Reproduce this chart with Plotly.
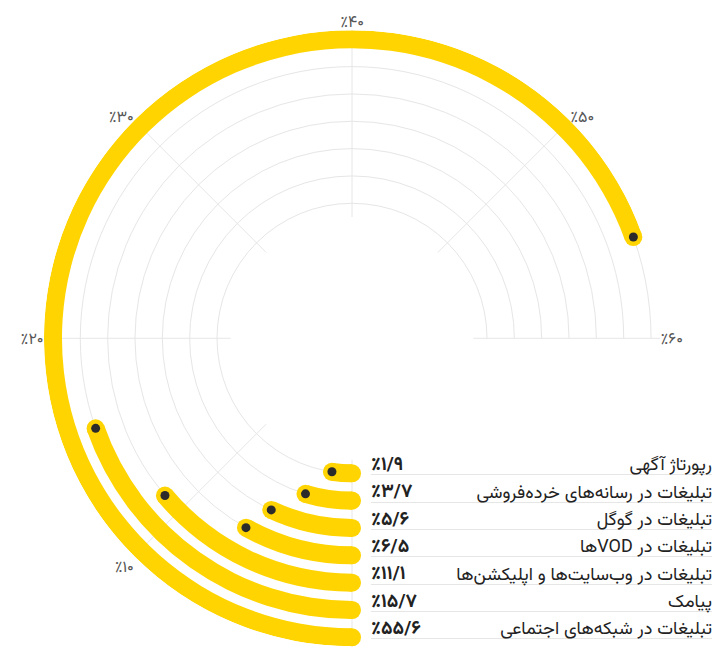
import re
import plotly.graph_objects as go

# ---------------- data ----------------
categories = [
    "رپورتاژ آگهی",
    "تبلیغات در رسانه\u200cهای خرده\u200cفروشی",
    "تبلیغات در گوگل",
    "تبلیغات در VODها",
    "تبلیغات در وب\u200cسایت\u200cها و اپلیکشن\u200cها",
    "پیامک",
    "تبلیغات در شبکه\u200cهای اجتماعی",
]
values = [1.9, 3.7, 5.6, 6.5, 11.1, 15.7, 55.6]
tick_values = [0, 10, 20, 30, 40, 50, 60]
tick_labels = ["", "٪۱۰", "٪۲۰", "٪۳۰", "٪۴۰", "٪۵۰", "٪۶۰"]

# ---------------- helpers ----------------
PERSIAN = str.maketrans("0123456789.", "۰۱۲۳۴۵۶۷۸۹/")


def fa_pct(v):
    return "٪" + f"{v}".translate(PERSIAN)


def rtl(s):
    # only mixed-direction strings need an explicit RTL embedding
    if re.search(r"[A-Za-z]", s):
        return "\u202b" + s + "\u202c"
    return s


MAX_PCT = 60
SPAN_DEG = 270.0
DEG = SPAN_DEG / MAX_PCT          # degrees per percent


def to_theta(p):
    # 0% sits at the bottom, values run clockwise up to 60% at the right
    return (MAX_PCT - p) * DEG


YELLOW = "#FFD400"
DOT = "#2b2b2b"
GRID = "#e6e6e6"
TEXT = "#222222"
FONT = "Vazirmatn, 'Noto Sans Arabic', 'DejaVu Sans', sans-serif"

W, H = 720, 648
PAGE_OFF = 8.0                    # the page body margin shifts the figure by this much
CX, CY = 352.0 - PAGE_OFF, 338.3 - PAGE_OFF   # polar centre (figure px)
R_OUT = 308.0                     # outer radius of the polar area (px)
ROW0 = 135.0                      # px radius of first row
STEP = 27.34                      # px between rows
THICK = 0.66                      # bar thickness in row units

idx = list(range(len(values)))
r_min = -0.5
r_max = (R_OUT - ROW0) / STEP
hole_px = ROW0 + r_min * STEP

fig = go.Figure()

# bars (arc from 0% to the value)
fig.add_trace(go.Barpolar(
    r=[THICK] * len(values),
    base=[i - THICK / 2 for i in idx],
    theta=[(to_theta(v) + to_theta(0)) / 2 for v in values],
    width=[v * DEG for v in values],
    marker=dict(color=YELLOW, line=dict(width=0)),
    hoverinfo="skip",
    showlegend=False,
))

cap_px = THICK * STEP
# round caps at start and end
fig.add_trace(go.Scatterpolar(
    r=idx + idx,
    theta=[to_theta(0)] * len(values) + [to_theta(v) for v in values],
    mode="markers",
    marker=dict(size=cap_px, color=YELLOW, line=dict(width=0)),
    cliponaxis=False,
    hoverinfo="skip",
    showlegend=False,
))
# dark end dots
fig.add_trace(go.Scatterpolar(
    r=idx,
    theta=[to_theta(v) for v in values],
    mode="markers",
    marker=dict(size=9, color=DOT, line=dict(width=0)),
    cliponaxis=False,
    hovertemplate="%{text}<extra></extra>",
    text=[fa_pct(v) for v in values],
    showlegend=False,
))

# label rows (cartesian overlay)
X0 = 371.0 - PAGE_OFF
X1 = 720.0 - PAGE_OFF
LABEL_RIGHT = 712.0 - PAGE_OFF
label_x = (LABEL_RIGHT - X0) / (X1 - X0)
ROW_Y0 = CY + ROW0 + 1.5
y_top_val = -1.0
y_bot_val = (H - ROW_Y0) / STEP
y_dom_top = 1 - (ROW_Y0 + y_top_val * STEP) / H

fig.add_trace(go.Scatter(
    x=[0] * len(values), y=idx,
    text=[fa_pct(v) for v in values],
    mode="text", textposition="top right",
    textfont=dict(family=FONT, size=19, color=TEXT, weight="bold"),
    cliponaxis=False,
    hoverinfo="skip", showlegend=False,
))
fig.add_trace(go.Scatter(
    x=[label_x] * len(values), y=idx,
    text=[rtl(c) for c in categories],
    mode="text", textposition="top left",
    textfont=dict(family=FONT, size=18, color=TEXT),
    cliponaxis=False,
    hoverinfo="skip", showlegend=False,
))

fig.update_layout(
    width=W, height=H,
    margin=dict(l=0, r=0, t=0, b=0),
    paper_bgcolor="white",
    plot_bgcolor="rgba(0,0,0,0)",
    font=dict(family=FONT),
    polar=dict(
        domain=dict(
            x=[(CX - R_OUT) / W, (CX + R_OUT) / W],
            y=[max(0.0, 1 - (CY + R_OUT) / H), 1 - (CY - R_OUT) / H],
        ),
        sector=[0, 270],
        hole=hole_px / R_OUT,
        bgcolor="rgba(0,0,0,0)",
        barmode="overlay",
        radialaxis=dict(
            range=[r_min, r_max],
            tickvals=idx,
            showticklabels=False,
            ticks="",
            showline=False,
            gridcolor=GRID,
            gridwidth=1,
        ),
        angularaxis=dict(
            tickmode="array",
            tickvals=[to_theta(t) for t in tick_values],
            ticktext=tick_labels,
            ticks="",
            showline=False,
            showgrid=True,
            gridcolor=GRID,
            gridwidth=1,
            tickfont=dict(family=FONT, size=16, color="#555555"),
        ),
    ),
    xaxis=dict(domain=[X0 / W, X1 / W], range=[0, 1], visible=False, fixedrange=True),
    yaxis=dict(
        domain=[0, y_dom_top],
        range=[y_bot_val, y_top_val],
        tickvals=idx,
        showticklabels=False,
        ticks="",
        showgrid=True,
        gridcolor=GRID,
        gridwidth=1,
        zeroline=False,
        showline=False,
        fixedrange=True,
    ),
)

fig.write_html("out.html")
